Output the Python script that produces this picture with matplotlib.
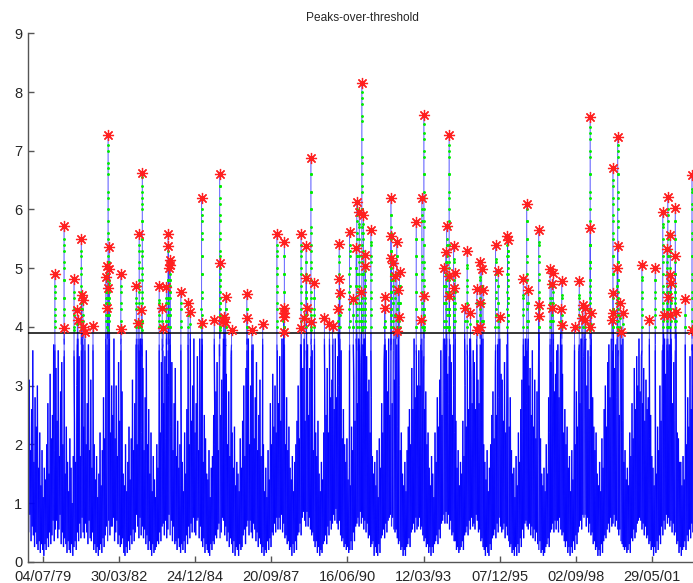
import matplotlib
matplotlib.use('Agg')
import matplotlib.pyplot as plt
import matplotlib.dates as mdates
from matplotlib.collections import LineCollection
import numpy as np
from datetime import datetime

# ---------------- data ----------------
first_year = 1979
threshold = 3.9

# semi-monthly crest heights (m), one row per year 1979..2002
hs_crest = [
    [3.1, 1.9, 2.6, 3.6, 1.7, 2.8, 2.3, 3.0, 1.6, 2.2, 1.3, 1.9, 1.1, 1.6, 1.4, 2.0, 2.7, 1.5, 3.2, 2.1, 2.5, 3.7, 1.9, 3.3],
    [2.4, 3.6, 1.8, 2.9, 3.4, 2.0, 2.6, 1.5, 2.3, 1.7, 1.2, 2.1, 1.6, 1.0, 1.8, 2.4, 1.7, 3.0, 2.2, 3.5, 1.8, 2.9, 3.8, 2.3],
    [3.4, 2.0, 2.7, 3.7, 1.9, 3.1, 1.6, 2.5, 2.0, 1.4, 1.8, 1.1, 1.5, 2.2, 1.3, 1.9, 2.8, 2.1, 3.6, 1.7, 2.6, 3.8, 2.2, 3.0],
    [2.5, 3.8, 2.1, 3.0, 1.8, 3.4, 2.4, 1.7, 2.9, 1.5, 1.3, 2.0, 1.2, 1.7, 2.3, 1.4, 2.1, 3.1, 1.9, 2.7, 3.7, 2.0, 3.3, 2.6],
    [3.8, 2.2, 3.3, 1.9, 2.8, 3.6, 2.0, 2.6, 1.5, 2.2, 1.2, 1.8, 1.4, 1.1, 2.0, 1.6, 2.9, 2.2, 3.4, 1.8, 2.7, 3.5, 2.1, 3.2],
    [3.0, 3.7, 2.3, 3.4, 1.9, 2.7, 3.3, 1.8, 2.4, 1.6, 2.0, 1.3, 1.7, 1.2, 2.2, 1.5, 2.6, 3.2, 2.0, 3.6, 2.4, 3.0, 3.8, 2.2],
    [2.7, 3.5, 1.9, 3.8, 2.6, 3.1, 1.7, 2.5, 2.1, 1.5, 1.4, 1.9, 1.1, 1.6, 1.8, 2.5, 2.0, 2.9, 3.4, 1.9, 3.7, 2.5, 3.1, 2.8],
    [3.6, 2.3, 3.2, 2.0, 2.9, 1.8, 3.5, 2.2, 1.6, 2.3, 1.3, 1.7, 1.5, 1.2, 2.1, 1.6, 2.4, 3.0, 1.8, 3.3, 2.6, 3.8, 2.0, 3.0],
    [2.9, 3.7, 2.1, 2.8, 3.4, 1.9, 2.5, 3.1, 1.8, 1.5, 2.0, 1.2, 1.6, 1.1, 1.9, 1.4, 2.7, 2.0, 3.2, 2.3, 3.0, 2.2, 3.6, 2.7],
    [3.5, 2.4, 3.8, 2.6, 3.1, 2.0, 2.8, 1.9, 2.3, 1.6, 1.4, 1.8, 1.2, 1.7, 2.0, 2.4, 3.0, 2.1, 3.7, 2.5, 3.3, 3.8, 2.4, 3.4],
    [3.7, 2.5, 3.3, 2.2, 3.6, 1.9, 2.7, 2.2, 1.8, 2.4, 1.5, 1.2, 1.7, 1.4, 2.2, 1.8, 2.5, 3.3, 2.2, 3.5, 2.8, 3.1, 3.8, 2.6],
    [3.8, 2.8, 3.5, 3.0, 2.4, 3.6, 2.1, 2.6, 2.0, 1.7, 2.1, 1.4, 1.6, 1.3, 2.3, 1.9, 3.1, 2.4, 3.7, 2.7, 3.8, 3.0, 3.4, 3.7],
    [3.3, 3.8, 2.6, 3.5, 2.9, 3.1, 2.2, 2.8, 1.8, 1.5, 1.7, 1.3, 1.9, 1.1, 2.1, 1.6, 2.7, 2.2, 3.4, 2.0, 3.6, 2.9, 3.8, 2.5],
    [3.8, 2.7, 3.6, 3.1, 2.5, 3.7, 2.3, 3.0, 1.9, 2.2, 1.5, 1.3, 1.7, 1.2, 1.9, 2.3, 2.6, 2.0, 3.3, 2.6, 3.8, 2.8, 3.5, 3.0],
    [3.6, 3.0, 3.8, 2.4, 3.3, 2.6, 2.9, 2.0, 2.2, 1.6, 1.3, 1.8, 1.5, 1.1, 2.2, 1.7, 2.8, 2.3, 3.1, 3.6, 2.5, 3.4, 3.8, 2.9],
    [3.8, 3.2, 2.7, 3.7, 3.4, 2.5, 3.0, 2.2, 2.4, 1.6, 1.9, 1.3, 1.7, 1.5, 2.4, 1.8, 3.0, 2.3, 3.5, 2.6, 3.8, 3.1, 2.7, 3.6],
    [3.4, 2.6, 3.8, 3.1, 2.7, 3.5, 2.4, 2.9, 2.0, 1.7, 1.4, 1.9, 1.2, 1.6, 2.0, 2.5, 2.9, 2.1, 3.3, 2.5, 3.7, 2.8, 3.8, 3.2],
    [3.1, 2.4, 3.4, 2.2, 3.7, 2.6, 2.3, 2.8, 1.9, 1.5, 1.6, 1.1, 1.8, 1.3, 2.2, 1.7, 2.6, 3.1, 2.2, 3.5, 3.8, 2.7, 3.6, 3.0],
    [3.3, 2.5, 3.6, 2.3, 3.1, 2.1, 2.9, 2.4, 1.8, 2.1, 1.5, 1.3, 1.6, 1.2, 2.0, 1.5, 2.8, 2.2, 3.4, 2.5, 3.7, 2.9, 3.2, 3.6],
    [3.7, 2.8, 3.4, 2.5, 3.2, 2.2, 2.6, 2.0, 2.3, 1.6, 1.8, 1.2, 1.9, 1.4, 2.5, 2.0, 2.9, 2.3, 3.6, 2.7, 3.8, 3.1, 3.5, 3.8],
    [3.8, 3.0, 3.6, 2.6, 3.5, 2.4, 2.8, 2.3, 1.9, 2.2, 1.5, 1.3, 1.7, 1.2, 2.1, 1.6, 2.6, 3.0, 2.3, 3.4, 3.7, 2.8, 3.8, 3.3],
    [3.8, 3.3, 3.7, 2.8, 3.6, 2.5, 3.2, 2.2, 2.4, 1.7, 1.9, 1.4, 1.6, 1.3, 2.2, 1.8, 2.7, 2.1, 3.3, 2.6, 3.5, 3.0, 3.8, 2.9],
    [3.5, 2.7, 3.3, 2.4, 3.1, 2.6, 2.8, 2.1, 2.5, 1.8, 1.6, 1.3, 1.9, 1.5, 2.3, 1.9, 3.0, 2.4, 3.6, 2.7, 3.8, 3.2, 3.7, 3.4],
    [3.7, 3.0, 3.5, 2.7, 3.4, 2.4, 2.9, 2.2, 2.1, 1.7, 1.7, 1.3, 1.8, 1.4, 2.4, 2.0, 2.8, 2.3, 3.5, 2.6, 3.7, 3.0, 3.6, 3.3],
]

# semi-monthly trough heights (m), one row per year 1979..2002
hs_trough = [
    [0.5, 0.8, 0.35, 0.6, 0.45, 0.25, 0.5, 0.3, 0.2, 0.35, 0.15, 0.3, 0.2, 0.1, 0.3, 0.2, 0.4, 0.25, 0.5, 0.3, 0.45, 0.7, 0.35, 0.55],
    [0.7, 0.4, 0.55, 0.8, 0.3, 0.5, 0.25, 0.4, 0.3, 0.15, 0.35, 0.2, 0.15, 0.3, 0.1, 0.25, 0.35, 0.2, 0.5, 0.35, 0.65, 0.4, 0.75, 0.5],
    [0.4, 0.65, 0.5, 0.3, 0.7, 0.4, 0.35, 0.5, 0.2, 0.3, 0.15, 0.25, 0.1, 0.2, 0.3, 0.15, 0.4, 0.25, 0.45, 0.6, 0.35, 0.7, 0.45, 0.6],
    [0.6, 0.75, 0.35, 0.5, 0.7, 0.3, 0.45, 0.25, 0.3, 0.4, 0.15, 0.1, 0.25, 0.15, 0.35, 0.2, 0.45, 0.3, 0.55, 0.35, 0.5, 0.8, 0.6, 0.4],
    [0.75, 0.45, 0.6, 0.4, 0.55, 0.3, 0.45, 0.2, 0.35, 0.2, 0.1, 0.3, 0.15, 0.2, 0.25, 0.35, 0.3, 0.5, 0.35, 0.6, 0.65, 0.45, 0.7, 0.4],
    [0.55, 0.8, 0.45, 0.7, 0.35, 0.6, 0.3, 0.35, 0.2, 0.4, 0.25, 0.15, 0.3, 0.2, 0.35, 0.15, 0.45, 0.3, 0.6, 0.4, 0.65, 0.5, 0.75, 0.5],
    [0.45, 0.7, 0.75, 0.4, 0.6, 0.35, 0.25, 0.4, 0.15, 0.3, 0.2, 0.15, 0.1, 0.3, 0.2, 0.35, 0.3, 0.45, 0.4, 0.55, 0.65, 0.4, 0.5, 0.75],
    [0.7, 0.45, 0.6, 0.35, 0.5, 0.25, 0.4, 0.3, 0.15, 0.35, 0.1, 0.25, 0.2, 0.1, 0.3, 0.2, 0.25, 0.45, 0.55, 0.3, 0.6, 0.7, 0.45, 0.7],
    [0.5, 0.4, 0.65, 0.55, 0.35, 0.5, 0.25, 0.4, 0.3, 0.15, 0.25, 0.1, 0.2, 0.15, 0.35, 0.2, 0.4, 0.25, 0.5, 0.45, 0.65, 0.5, 0.75, 0.55],
    [0.75, 0.55, 0.8, 0.5, 0.65, 0.4, 0.45, 0.3, 0.35, 0.2, 0.25, 0.1, 0.3, 0.15, 0.35, 0.2, 0.45, 0.5, 0.65, 0.45, 0.75, 0.85, 0.7, 0.6],
    [0.85, 0.6, 0.75, 0.55, 0.45, 0.5, 0.35, 0.25, 0.35, 0.15, 0.25, 0.1, 0.2, 0.15, 0.3, 0.35, 0.45, 0.3, 0.6, 0.45, 0.7, 0.55, 0.65, 0.8],
    [0.7, 0.9, 0.65, 0.55, 0.7, 0.45, 0.35, 0.4, 0.25, 0.3, 0.2, 0.25, 0.15, 0.2, 0.35, 0.2, 0.5, 0.35, 0.6, 0.65, 0.75, 0.6, 0.85, 0.65],
    [0.75, 0.55, 0.7, 0.5, 0.65, 0.4, 0.45, 0.25, 0.3, 0.35, 0.1, 0.25, 0.15, 0.1, 0.3, 0.15, 0.4, 0.45, 0.55, 0.4, 0.65, 0.5, 0.7, 0.75],
    [0.8, 0.6, 0.75, 0.55, 0.5, 0.55, 0.4, 0.3, 0.35, 0.2, 0.25, 0.1, 0.2, 0.1, 0.25, 0.3, 0.4, 0.25, 0.5, 0.55, 0.65, 0.5, 0.75, 0.55],
    [0.6, 0.75, 0.55, 0.6, 0.45, 0.35, 0.4, 0.25, 0.3, 0.15, 0.25, 0.1, 0.25, 0.15, 0.3, 0.35, 0.45, 0.3, 0.55, 0.4, 0.65, 0.7, 0.8, 0.65],
    [0.85, 0.65, 0.8, 0.55, 0.7, 0.45, 0.5, 0.35, 0.35, 0.2, 0.25, 0.15, 0.2, 0.25, 0.35, 0.2, 0.45, 0.5, 0.6, 0.45, 0.7, 0.55, 0.75, 0.6],
    [0.65, 0.55, 0.8, 0.7, 0.5, 0.55, 0.35, 0.4, 0.25, 0.2, 0.1, 0.25, 0.15, 0.1, 0.3, 0.2, 0.4, 0.45, 0.55, 0.4, 0.65, 0.5, 0.75, 0.6],
    [0.5, 0.55, 0.65, 0.4, 0.6, 0.45, 0.35, 0.25, 0.3, 0.15, 0.2, 0.1, 0.25, 0.1, 0.3, 0.15, 0.4, 0.25, 0.55, 0.4, 0.65, 0.7, 0.6, 0.55],
    [0.65, 0.45, 0.6, 0.4, 0.55, 0.35, 0.5, 0.3, 0.2, 0.35, 0.15, 0.2, 0.1, 0.15, 0.25, 0.3, 0.4, 0.25, 0.5, 0.55, 0.65, 0.5, 0.7, 0.55],
    [0.7, 0.5, 0.75, 0.55, 0.45, 0.5, 0.35, 0.25, 0.35, 0.15, 0.25, 0.1, 0.25, 0.15, 0.35, 0.2, 0.45, 0.3, 0.5, 0.6, 0.7, 0.55, 0.8, 0.75],
    [0.8, 0.6, 0.75, 0.5, 0.65, 0.45, 0.5, 0.3, 0.35, 0.2, 0.25, 0.1, 0.2, 0.1, 0.3, 0.15, 0.35, 0.45, 0.4, 0.55, 0.65, 0.5, 0.75, 0.6],
    [0.65, 0.8, 0.6, 0.7, 0.55, 0.45, 0.55, 0.35, 0.3, 0.25, 0.2, 0.25, 0.15, 0.2, 0.3, 0.15, 0.4, 0.35, 0.55, 0.4, 0.5, 0.65, 0.7, 0.75],
    [0.7, 0.55, 0.65, 0.45, 0.6, 0.4, 0.45, 0.3, 0.35, 0.2, 0.25, 0.1, 0.25, 0.15, 0.35, 0.2, 0.45, 0.3, 0.6, 0.45, 0.7, 0.55, 0.8, 0.65],
    [0.75, 0.6, 0.7, 0.5, 0.65, 0.45, 0.5, 0.3, 0.35, 0.15, 0.25, 0.1, 0.2, 0.25, 0.35, 0.2, 0.45, 0.35, 0.55, 0.4, 0.65, 0.5, 0.7, 0.55],
]

# storm events: start time (decimal year) and 3-hourly Hs samples (m)
event_time = [
    1979.94, 1980.27, 1980.28, 1980.63, 1980.75, 1980.77, 1980.89, 1980.90, 1980.95, 1980.96,
    1981.02, 1981.31, 1981.77, 1981.82, 1981.83, 1981.85, 1981.86, 1981.89, 1981.90, 1982.31,
    1982.32, 1982.87, 1982.93, 1982.97, 1983.05, 1983.08, 1983.69, 1983.80, 1983.83, 1983.95,
    1984.01, 1984.02, 1984.03, 1984.07, 1984.09, 1984.47, 1984.73, 1984.81, 1985.21, 1985.24,
    1985.67, 1985.86, 1985.87, 1986.00, 1986.03, 1986.06, 1986.08, 1986.29, 1986.84, 1986.85,
    1987.02, 1987.41, 1987.92, 1988.16, 1988.165, 1988.17, 1988.175, 1988.19, 1988.79, 1988.80,
    1988.91, 1988.97, 1988.98, 1988.99, 1989.14, 1989.16, 1989.27, 1989.63, 1989.81, 1989.92,
    1990.13, 1990.16, 1990.17, 1990.19, 1990.53, 1990.67, 1990.77, 1990.79, 1990.88, 1990.96,
    1990.97, 1991.03, 1991.09, 1991.10, 1991.30, 1991.79, 1991.81, 1992.02, 1992.025, 1992.03,
    1992.11, 1992.17, 1992.23, 1992.235, 1992.29, 1992.295, 1992.33, 1992.93, 1993.09, 1993.13,
    1993.20, 1993.205, 1993.91, 1993.99, 1994.02, 1994.11, 1994.12, 1994.125, 1994.27, 1994.275,
    1994.33, 1994.67, 1994.76, 1994.88, 1995.11, 1995.115, 1995.23, 1995.235, 1995.24, 1995.28,
    1995.33, 1995.78, 1995.88, 1995.93, 1996.21, 1996.215, 1996.78, 1996.90, 1996.96, 1997.33,
    1997.335, 1997.34, 1997.74, 1997.80, 1997.805, 1997.86, 1998.12, 1998.16, 1998.165, 1998.62,
    1998.79, 1998.88, 1998.92, 1999.00, 1999.005, 1999.18, 1999.185, 1999.19, 1999.22, 1999.96,
    2000.00, 2000.005, 2000.02, 2000.15, 2000.17, 2000.175, 2000.26, 2000.30, 2000.36, 2001.04,
    2001.31, 2001.52, 2001.79, 2001.82, 2001.94, 2001.97, 2001.975, 2002.06, 2002.065, 2002.07,
    2002.09, 2002.24, 2002.245, 2002.27, 2002.60, 2002.84, 2002.845,
]

event_hs = [
    [3.6, 4.0, 4.2, 4.5, 4.7, 4.9, 4.6, 4.3, 4.1, 3.7],
    [3.5, 4.0, 4.2, 4.5, 4.8, 5.0, 5.3, 5.5, 5.71, 5.4, 5.1, 4.8, 4.5, 4.3, 4.0, 3.8],
    [3.7, 3.98, 3.6],
    [3.6, 3.95, 4.2, 4.5, 4.81, 4.6, 4.3, 4.0, 3.5],
    [3.8, 4.05, 4.29, 4.1, 3.7],
    [3.8, 4.12, 3.8],
    [3.6, 4.0, 4.3, 4.6, 4.9, 5.2, 5.49, 5.3, 5.0, 4.7, 4.4, 4.1, 3.7],
    [3.9, 4.1, 4.3, 4.54, 4.3, 4.0, 3.8],
    [3.9, 4.2, 4.46, 4.1, 3.8],
    [3.8, 4.0, 3.7],
    [3.8, 3.92, 3.6],
    [3.7, 4.02, 3.6],
    [3.8, 4.1, 4.4, 4.6, 4.85, 4.5, 4.2, 3.9],
    [3.7, 4.0, 4.3, 4.6, 4.8, 5.04, 4.8, 4.5, 4.2, 3.8],
    [3.9, 4.1, 4.32, 4.0],
    [3.6, 3.95, 4.2, 4.5, 4.9, 5.2, 5.6, 6.0, 6.3, 6.6, 6.8, 7.1, 7.27, 7.0, 6.7, 6.2, 5.8, 5.5, 5.1, 4.7, 4.4, 4.1, 3.8],
    [3.9, 4.1, 4.3, 4.66, 4.4, 4.1, 3.8],
    [3.8, 4.1, 4.4, 4.7, 5.0, 5.36, 5.1, 4.8, 4.5, 4.2, 3.9],
    [3.9, 4.2, 4.5, 4.75, 4.98, 4.6, 4.3, 3.9],
    [3.6, 4.0, 4.3, 4.6, 4.9, 4.7, 4.4, 4.1, 3.7],
    [3.8, 3.96, 3.7],
    [3.7, 4.0, 4.3, 4.5, 4.70, 4.4, 4.1, 3.8],
    [3.8, 4.06, 3.7],
    [3.6, 4.0, 4.3, 4.6, 4.8, 5.1, 5.4, 5.59, 5.3, 5.0, 4.7, 4.4, 4.1, 3.8],
    [3.8, 4.05, 4.28, 4.0, 3.7],
    [3.5, 3.95, 4.1, 4.3, 4.5, 4.8, 5.0, 5.3, 5.5, 5.8, 6.0, 6.2, 6.4, 6.62, 6.55, 6.3, 6.1, 5.8, 5.5, 5.2, 4.9, 4.6, 4.4, 4.1, 3.8],
    [3.6, 4.0, 4.2, 4.45, 4.69, 4.4, 4.1, 3.7],
    [3.8, 4.1, 4.33, 4.0, 3.6],
    [3.7, 3.98, 3.6],
    [3.8, 4.1, 4.3, 4.5, 4.68, 4.4, 4.1, 3.9],
    [3.6, 4.0, 4.2, 4.5, 4.8, 5.1, 5.3, 5.59, 5.4, 5.1, 4.8, 4.5, 4.2, 4.0, 3.7],
    [3.8, 4.1, 4.4, 4.7, 5.0, 5.38, 5.1, 4.8, 4.4, 4.1, 3.8],
    [3.9, 4.2, 4.5, 4.8, 5.01, 4.7, 4.3, 3.9],
    [3.8, 4.2, 4.6, 4.8, 5.05, 4.7, 4.3, 4.0],
    [3.9, 4.2, 4.5, 4.8, 5.14, 4.9, 4.6, 4.3, 4.0, 3.7],
    [3.6, 4.0, 4.3, 4.60, 4.4, 4.1, 3.7],
    [3.7, 4.0, 4.2, 4.41, 4.2, 3.9, 3.7],
    [3.8, 4.05, 4.26, 3.9],
    [3.6, 4.0, 4.3, 4.6, 4.9, 5.2, 5.5, 5.8, 6.0, 6.20, 5.9, 5.6, 5.2, 4.9, 4.5, 4.2, 3.8],
    [3.8, 4.06, 3.7],
    [3.8, 4.12, 3.7],
    [3.5, 3.95, 4.2, 4.4, 4.7, 5.0, 5.3, 5.6, 5.9, 6.2, 6.4, 6.60, 6.4, 6.1, 5.8, 5.5, 5.2, 4.9, 4.6, 4.3, 4.0, 3.8],
    [3.9, 4.2, 4.5, 4.8, 5.09, 4.8, 4.4, 4.0],
    [3.8, 4.10, 3.8],
    [3.9, 4.17, 3.8],
    [3.9, 4.09, 3.7],
    [3.7, 4.0, 4.3, 4.51, 4.3, 4.0, 3.8],
    [3.7, 3.95, 3.6],
    [3.6, 4.0, 4.3, 4.56, 4.3, 4.0, 3.7],
    [3.8, 4.15, 3.8],
    [3.7, 3.95, 3.6],
    [3.8, 4.05, 3.7],
    [3.6, 4.0, 4.3, 4.6, 4.9, 5.2, 5.4, 5.59, 5.3, 5.0, 4.7, 4.4, 4.1, 3.7],
    [3.8, 4.1, 4.33, 4.0],
    [3.9, 4.24, 3.9],
    [3.8, 4.16, 3.9],
    [3.8, 3.92, 3.7],
    [3.6, 4.0, 4.3, 4.6, 4.9, 5.2, 5.45, 5.2, 4.9, 4.6, 4.3, 4.0, 3.7],
    [3.6, 4.0, 4.3, 4.6, 4.9, 5.2, 5.4, 5.58, 5.3, 5.0, 4.7, 4.4, 4.1, 3.7],
    [3.7, 3.98, 3.7],
    [3.8, 4.15, 3.8],
    [3.6, 4.0, 4.3, 4.6, 4.9, 5.1, 5.38, 5.1, 4.8, 4.5, 4.2, 3.9],
    [3.9, 4.2, 4.5, 4.83, 4.6, 4.3, 3.9],
    [3.9, 4.32, 3.9],
    [3.5, 3.95, 4.2, 4.5, 4.8, 5.1, 5.4, 5.7, 6.0, 6.3, 6.6, 6.87, 6.6, 6.3, 6.0, 5.6, 5.3, 5.0, 4.6, 4.3, 4.0, 3.7],
    [3.8, 4.09, 3.7],
    [3.7, 4.0, 4.3, 4.5, 4.74, 4.5, 4.2, 3.8],
    [3.8, 4.15, 3.7],
    [3.8, 4.05, 3.7],
    [3.8, 4.02, 3.7],
    [3.9, 4.1, 4.30, 3.9],
    [3.6, 4.0, 4.3, 4.6, 4.8, 5.1, 5.42, 5.2, 4.9, 4.6, 4.3, 4.0, 3.7],
    [3.9, 4.2, 4.5, 4.81, 4.6, 4.3, 3.9],
    [3.9, 4.2, 4.58, 4.3, 4.0, 3.8],
    [3.6, 4.0, 4.3, 4.6, 4.9, 5.2, 5.4, 5.61, 5.3, 5.0, 4.7, 4.4, 4.1, 3.7],
    [3.7, 4.0, 4.2, 4.47, 4.2, 4.0, 3.7],
    [3.8, 4.1, 4.4, 4.7, 5.0, 5.34, 5.0, 4.7, 4.4, 4.1, 3.8],
    [3.6, 4.0, 4.3, 4.6, 4.9, 5.2, 5.5, 5.8, 6.0, 6.13, 5.9, 5.6, 5.2, 4.9, 4.5, 4.2, 3.9],
    [3.7, 4.0, 4.3, 4.6, 4.9, 5.2, 5.5, 5.75, 5.95, 5.7, 5.4, 5.1, 4.7, 4.4, 4.1, 3.8],
    [3.9, 4.1, 4.3, 4.60, 4.4, 4.1, 3.9],
    [3.5, 3.95, 4.1, 4.3, 4.6, 4.9, 5.1, 5.4, 5.7, 6.0, 6.3, 6.6, 6.9, 7.2, 7.5, 7.8, 8.0, 8.16, 7.9, 7.6, 7.2, 6.8, 6.4, 6.0, 5.6, 5.2, 4.9, 4.5, 4.2, 4.0, 3.7],
    [3.7, 4.0, 4.3, 4.6, 4.9, 5.2, 5.5, 5.75, 5.91, 5.6, 5.3, 4.9, 4.6, 4.3, 4.0, 3.8],
    [3.8, 4.1, 4.4, 4.7, 4.95, 5.22, 5.0, 4.7, 4.3, 4.0],
    [3.9, 4.2, 4.5, 4.8, 5.03, 4.7, 4.3, 3.9],
    [3.6, 4.0, 4.3, 4.6, 4.9, 5.2, 5.45, 5.65, 5.4, 5.1, 4.8, 4.5, 4.2, 3.9, 3.6],
    [3.7, 4.0, 4.32, 4.1, 3.7],
    [3.7, 4.0, 4.3, 4.51, 4.3, 4.0, 3.8],
    [3.6, 4.0, 4.3, 4.6, 4.9, 5.2, 5.5, 5.7, 5.9, 6.19, 5.9, 5.6, 5.3, 5.0, 4.6, 4.3, 4.0, 3.7],
    [3.9, 4.2, 4.5, 4.8, 5.1, 5.3, 5.54, 5.3, 5.0, 4.6, 4.3, 3.9],
    [3.9, 4.2, 4.5, 4.8, 5.17, 4.9, 4.5, 4.1],
    [3.8, 4.1, 4.4, 4.7, 5.09, 4.8, 4.4, 4.0],
    [3.9, 4.2, 4.5, 4.87, 4.6, 4.2, 3.8],
    [3.7, 4.0, 4.3, 4.6, 4.9, 5.2, 5.44, 5.2, 4.9, 4.6, 4.3, 3.9],
    [3.8, 3.93, 3.7],
    [3.8, 4.1, 4.4, 4.63, 4.4, 4.1, 3.8],
    [3.9, 4.17, 3.8],
    [3.8, 4.1, 4.4, 4.7, 4.94, 4.7, 4.4, 4.0],
    [3.6, 4.0, 4.3, 4.6, 4.9, 5.2, 5.5, 5.78, 5.5, 5.2, 4.9, 4.6, 4.3, 4.0, 3.7],
    [3.8, 4.11, 3.7],
    [3.6, 4.0, 4.3, 4.6, 4.9, 5.2, 5.5, 5.8, 6.0, 6.19, 5.9, 5.5, 5.1, 4.8, 4.4, 4.1, 3.8],
    [3.5, 3.95, 4.2, 4.5, 4.8, 5.1, 5.4, 5.7, 6.0, 6.3, 6.6, 6.9, 7.2, 7.45, 7.61, 7.3, 7.0, 6.6, 6.2, 5.8, 5.4, 5.0, 4.7, 4.3, 4.0, 3.8],
    [3.9, 4.1, 4.3, 4.53, 4.3, 4.0, 3.8],
    [3.8, 4.1, 4.4, 4.7, 5.00, 4.7, 4.4, 4.0],
    [3.7, 4.0, 4.3, 4.6, 4.9, 5.1, 5.28, 5.0, 4.7, 4.4, 4.1, 3.8],
    [3.6, 4.0, 4.3, 4.6, 4.9, 5.2, 5.5, 5.71, 5.4, 5.1, 4.8, 4.5, 4.2, 3.9, 3.7],
    [3.5, 3.95, 4.2, 4.5, 4.8, 5.1, 5.4, 5.7, 6.0, 6.3, 6.6, 6.9, 7.1, 7.27, 7.0, 6.6, 6.2, 5.8, 5.4, 5.0, 4.6, 4.3, 4.0],
    [3.9, 4.2, 4.5, 4.86, 4.6, 4.3, 3.9],
    [3.9, 4.2, 4.53, 4.3, 4.0, 3.8],
    [3.7, 4.0, 4.3, 4.6, 4.9, 5.15, 5.38, 5.1, 4.8, 4.5, 4.2, 3.8],
    [3.9, 4.2, 4.4, 4.66, 4.4, 4.1, 3.9],
    [3.8, 4.1, 4.4, 4.7, 4.91, 4.6, 4.3, 3.9],
    [3.8, 4.1, 4.33, 3.9],
    [3.6, 4.0, 4.3, 4.6, 4.8, 5.05, 5.30, 5.0, 4.7, 4.4, 4.1, 3.7],
    [3.8, 4.05, 4.24, 3.8],
    [3.8, 4.1, 4.4, 4.64, 4.4, 4.1, 3.8],
    [3.8, 3.95, 3.7],
    [3.7, 4.0, 4.3, 4.6, 4.85, 5.10, 4.8, 4.5, 4.2, 3.8],
    [3.9, 4.2, 4.40, 4.0],
    [3.8, 4.00, 3.7],
    [3.8, 4.1, 4.4, 4.7, 4.98, 4.7, 4.4, 4.1, 3.9],
    [3.8, 4.1, 4.4, 4.62, 4.4, 4.1, 3.8],
    [3.6, 4.0, 4.3, 4.6, 4.9, 5.15, 5.40, 5.1, 4.8, 4.5, 4.2, 3.7],
    [3.8, 4.1, 4.4, 4.7, 4.95, 4.7, 4.4, 4.0],
    [3.8, 4.16, 3.8],
    [3.6, 4.0, 4.3, 4.6, 4.9, 5.2, 5.4, 5.54, 5.3, 5.0, 4.7, 4.4, 4.1, 3.9],
    [3.9, 4.2, 4.5, 4.8, 5.1, 5.3, 5.48, 5.2, 4.9, 4.5, 4.2],
    [3.7, 4.0, 4.3, 4.55, 4.81, 4.5, 4.2, 3.8],
    [3.6, 4.0, 4.3, 4.6, 4.9, 5.2, 5.5, 5.8, 6.0, 6.10, 5.8, 5.5, 5.1, 4.8, 4.4, 4.1, 3.8],
    [3.8, 4.1, 4.4, 4.62, 4.4, 4.1, 3.8],
    [3.6, 4.0, 4.3, 4.6, 4.9, 5.2, 5.45, 5.65, 5.4, 5.1, 4.8, 4.5, 4.2, 3.9, 3.6],
    [3.9, 4.15, 4.37, 4.0],
    [3.9, 4.18, 3.8],
    [3.7, 4.0, 4.3, 4.5, 4.75, 4.98, 4.7, 4.4, 4.1, 3.8],
    [3.8, 4.1, 4.4, 4.73, 4.5, 4.2, 3.8],
    [3.9, 4.1, 4.32, 3.9],
    [3.8, 4.1, 4.4, 4.7, 4.91, 4.6, 4.3, 3.9],
    [3.9, 4.1, 4.30, 3.9],
    [3.7, 4.0, 4.3, 4.55, 4.78, 4.5, 4.2, 3.8],
    [3.8, 4.04, 3.7],
    [3.7, 3.99, 3.6],
    [3.7, 4.0, 4.3, 4.55, 4.78, 4.5, 4.2, 3.7],
    [3.8, 4.15, 3.8],
    [3.9, 4.15, 4.38, 4.0],
    [3.9, 4.1, 4.32, 4.0],
    [3.8, 4.12, 3.8],
    [3.5, 3.95, 4.2, 4.5, 4.8, 5.1, 5.4, 5.7, 6.0, 6.3, 6.6, 6.9, 7.2, 7.4, 7.58, 7.3, 7.0, 6.6, 6.2, 5.8, 5.4, 5.0, 4.6, 4.3, 4.0, 3.8],
    [3.9, 4.2, 4.5, 4.8, 5.1, 5.4, 5.68, 5.4, 5.1, 4.7, 4.4, 4.0],
    [3.7, 3.99, 3.7],
    [3.8, 4.05, 4.24, 3.9],
    [3.8, 4.12, 3.8],
    [3.6, 4.0, 4.3, 4.6, 4.9, 5.2, 5.5, 5.8, 6.1, 6.4, 6.70, 6.5, 6.2, 5.9, 5.6, 5.2, 4.9, 4.5, 4.2, 3.8],
    [3.9, 4.1, 4.3, 4.58, 4.3, 4.0, 3.9],
    [3.9, 4.24, 3.9],
    [3.8, 4.1, 4.4, 4.7, 5.00, 4.7, 4.4, 4.0],
    [3.5, 3.95, 4.2, 4.5, 4.8, 5.1, 5.4, 5.7, 6.0, 6.3, 6.6, 6.9, 7.1, 7.24, 7.0, 6.6, 6.2, 5.8, 5.4, 5.0, 4.6, 4.3, 4.0],
    [3.9, 4.2, 4.5, 4.8, 5.1, 5.37, 5.1, 4.8, 4.4, 4.1, 3.9],
    [3.9, 4.15, 4.40, 4.0],
    [3.7, 3.92, 3.7],
    [3.8, 4.05, 4.24, 3.8],
    [3.6, 4.0, 4.3, 4.6, 4.85, 5.05, 4.8, 4.5, 4.2, 3.9, 3.6],
    [3.8, 4.12, 3.7],
    [3.6, 4.0, 4.3, 4.6, 4.8, 5.01, 4.8, 4.5, 4.2, 3.9, 3.7],
    [3.6, 4.0, 4.3, 4.6, 4.9, 5.2, 5.5, 5.75, 5.96, 5.7, 5.4, 5.1, 4.7, 4.4, 4.1, 3.7],
    [3.9, 4.20, 3.9],
    [3.7, 4.0, 4.3, 4.6, 4.9, 5.1, 5.32, 5.0, 4.7, 4.4, 4.1, 3.8],
    [3.6, 4.0, 4.3, 4.6, 4.9, 5.2, 5.5, 5.8, 6.0, 6.21, 5.9, 5.6, 5.2, 4.9, 4.5, 4.2, 3.9],
    [3.9, 4.2, 4.51, 4.3, 4.0, 3.8],
    [3.7, 4.0, 4.3, 4.6, 4.9, 5.2, 5.57, 5.3, 5.0, 4.6, 4.3, 3.9],
    [3.9, 4.2, 4.5, 4.88, 4.6, 4.3, 3.9],
    [3.9, 4.20, 3.9],
    [3.8, 4.1, 4.4, 4.75, 4.5, 4.2, 3.8],
    [3.6, 4.0, 4.3, 4.6, 4.9, 5.2, 5.5, 5.8, 6.02, 5.8, 5.5, 5.1, 4.7, 4.4, 4.1, 3.8],
    [3.9, 4.2, 4.6, 4.9, 5.21, 4.9, 4.5, 4.1],
    [3.9, 4.1, 4.26, 3.9],
    [3.7, 4.0, 4.2, 4.47, 4.2, 4.0, 3.7],
    [3.6, 4.0, 4.3, 4.6, 4.9, 5.2, 5.5, 5.8, 6.1, 6.35, 6.59, 6.3, 6.0, 5.6, 5.2, 4.8, 4.5, 4.1, 3.8],
    [3.8, 3.95, 3.7],
]

tick_labels = ['04/07/79', '30/03/82', '24/12/84', '20/09/87', '16/06/90',
               '12/03/93', '07/12/95', '02/09/98', '29/05/01']
x_range = ['1978-12-23', '2003-01-10']


def year_to_num(y):
    '''Decimal year to matplotlib date number'''
    yr = int(y)
    return mdates.date2num(datetime(yr, 1, 1)) + (y - yr) * 365.25


def build_series():
    '''Merge background oscillation and storm events into one record'''
    segments = []
    step = 365.25 / 24
    for i, (crest, trough) in enumerate(zip(hs_crest, hs_trough)):
        start = mdates.date2num(datetime(first_year + i, 1, 1))
        for k in range(24):
            t = start + k * step
            segments.append((t + 1, [t + 1, t + 8], [trough[k], crest[k]]))
    peaks_t, peaks_v = [], []
    for t_ev, vals in zip(event_time, event_hs):
        t0 = year_to_num(t_ev)
        times = t0 + 0.125 * np.arange(len(vals))
        segments.append((t0, list(times), vals))
        j = int(np.argmax(vals))
        peaks_t.append(times[j])
        peaks_v.append(vals[j])
    segments.sort(key=lambda s: s[0])
    t = np.concatenate([np.asarray(s[1], dtype=float) for s in segments])
    v = np.concatenate([np.asarray(s[2], dtype=float) for s in segments])
    return t, v, np.array(peaks_t), np.array(peaks_v)


def main():
    t, v, pk_t, pk_v = build_series()

    plt.rcParams['font.family'] = ['Liberation Sans', 'DejaVu Sans']
    fig = plt.figure(figsize=(6.93, 5.83), dpi=100)
    ax = fig.add_axes([0.0404, 0.0365, 0.9654, 0.9063])

    # segments drawn one by one so the dense part turns solid blue,
    # while the lone storm spikes above the threshold stay pale
    pts = np.column_stack([t, v])
    segs = np.stack([pts[:-1], pts[1:]], axis=1)
    high = np.maximum(v[:-1], v[1:]) > threshold
    ax.add_collection(LineCollection(segs[~high], colors=[(0, 0, 1, 0.85)],
                                     linewidths=0.9, zorder=2))
    ax.add_collection(LineCollection(segs[high], colors=[(0.15, 0.15, 1, 0.45)],
                                     linewidths=0.7, zorder=2))
    ax.axhline(threshold, color='black', lw=1.1, zorder=3)
    above = v > threshold
    ax.plot(t[above], v[above], ls='none', marker='.', color='#00ee00',
            ms=4.2, mew=0, zorder=4)
    ax.plot(pk_t, pk_v, ls='none', marker=(8, 2, 0), color='#ff2020',
            ms=8, mew=0.9, zorder=5)

    ax.set_ylim(0, 9)
    ax.set_yticks(range(10))
    ax.set_xlim(mdates.date2num(datetime.strptime(x_range[0], '%Y-%m-%d')),
                mdates.date2num(datetime.strptime(x_range[1], '%Y-%m-%d')))
    ax.set_xticks([mdates.date2num(datetime.strptime(s, '%d/%m/%y'))
                   for s in tick_labels])
    ax.set_xticklabels(tick_labels)

    for side in ['top', 'right']:
        ax.spines[side].set_visible(False)
    for side in ['left', 'bottom']:
        ax.spines[side].set_color('#555555')
        ax.spines[side].set_linewidth(1.0)
    ax.tick_params(direction='in', length=4.5, width=1.0, color='#555555',
                   labelsize=10.5, labelcolor='#262626', pad=4)
    ax.tick_params(axis='x', pad=6)
    ax.set_title('Peaks-over-threshold', fontsize=8.6, color='#262626', pad=9)

    fig.savefig('out.png', dpi=100)


if __name__ == '__main__':
    main()
